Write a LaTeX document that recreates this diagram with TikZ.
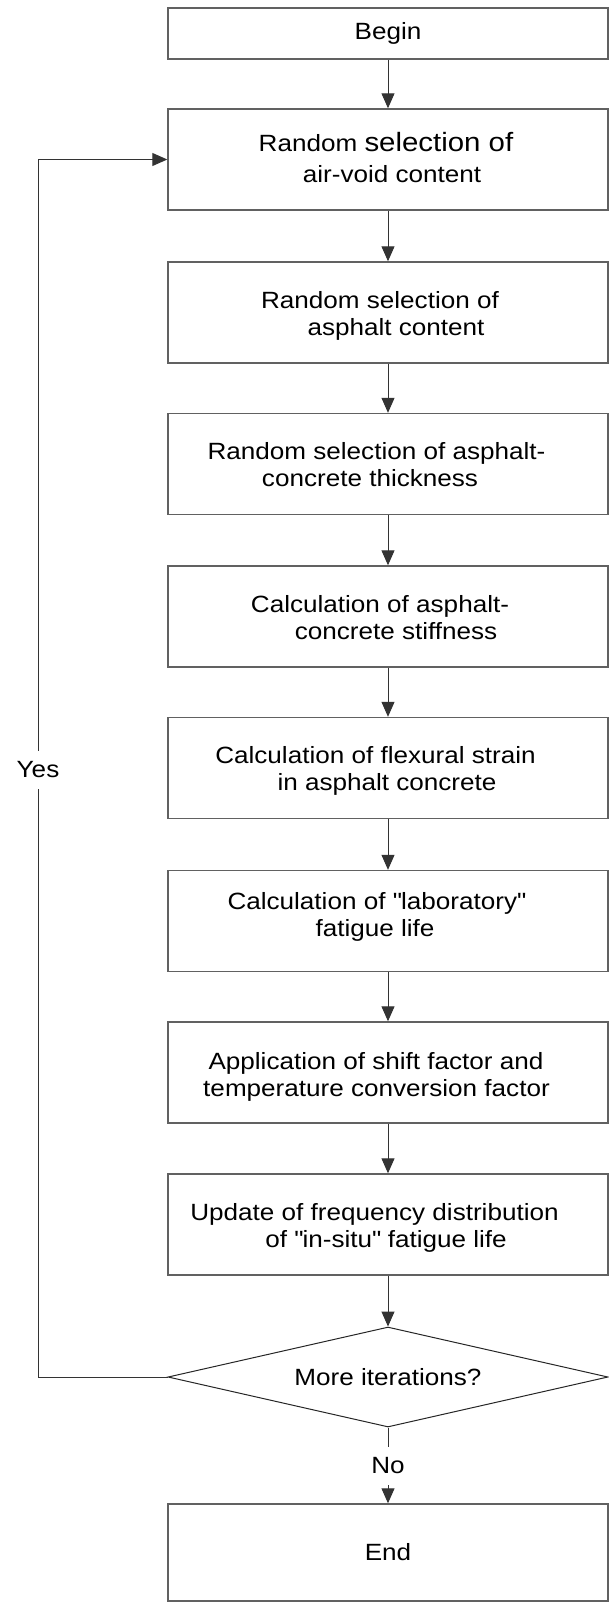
\documentclass[tikz,border=0pt]{standalone}
\usepackage{fontspec}
\setmainfont[FakeStretch=1.11]{Liberation Sans}
\usetikzlibrary{arrows.meta,shapes.geometric}
% #1 vertical shift (pt, positive = up), #2 lines
\newcommand\tx[2]{\raisebox{#1pt}[\height][\depth]{\begin{tabular}{@{}c@{}}#2\end{tabular}}}
% horizontal shift of one line (pt, positive = right)
\newcommand\lsh[2]{\hspace*{#1pt}#2\hspace*{-#1pt}}
\newcommand\qq{\textquotedbl}
\begin{document}
\begin{tikzpicture}[x=1pt,y=-1pt,
  box/.style={draw=black!62, line width=1.4pt, minimum width=440pt, minimum height=101pt,
    inner sep=0pt, align=center, font=\fontsize{23.5}{27}\selectfont},
  dec/.style={draw=black!85, line width=1pt, diamond, aspect=4.4, minimum width=440pt,
    minimum height=100pt, inner sep=0pt, font=\fontsize{23.5}{27}\selectfont},
  flow/.style={draw=black!80, line width=1pt, -{Triangle[length=15pt,width=13pt]}},
  lbl/.style={fill=white, inner xsep=2pt, inner ysep=11pt, font=\fontsize{23.5}{27}\selectfont}]
\useasboundingbox (0,0) rectangle (609,1602);
\node[box, minimum height=51pt] (begin) at (388,33.5) {Begin};
\node[box] (b2) at (388,159.5) {\tx{-2}{\lsh{-2}{Random {\fontsize{26.5}{27}\selectfont selection of}}\\[4pt]\lsh{4}{air-void content}}};
\node[box] (b3) at (388,312.5) {\tx{-4}{\lsh{-8}{Random selection of}\\\lsh{8}{asphalt content}}};
\node[box] (b4) at (388,464) {\tx{-4}{\lsh{-11.5}{Random selection of asphalt-}\\\lsh{-18}{concrete thickness}}};
\node[box] (b5) at (388,616.5) {\tx{-4}{\lsh{-8}{Calculation of asphalt-}\\\lsh{8}{concrete stiffness}}};
\node[box] (b6) at (388,768) {\tx{-4}{\lsh{-12.5}{Calculation of flexural strain}\\\lsh{-1}{in asphalt concrete}}};
\node[box] (b7) at (388,921) {\tx{3}{\lsh{-11.5}{Calculation of \qq laboratory\qq}\\\lsh{-13}{fatigue life}}};
\node[box] (b8) at (388,1072.5) {\tx{-5.5}{\lsh{-12}{Application of shift factor and}\\\lsh{-11.5}{temperature conversion factor}}};
\node[box] (b9) at (388,1224.5) {\tx{-4}{\lsh{-13.5}{Update of frequency distribution}\\\lsh{-2}{of \qq in-situ\qq\ fatigue life}}};
\node[dec] (more) at (388,1377) {More iterations?};
\node[box, minimum height=97pt] (end) at (388,1552.5) {End};
\coordinate (lc1) at (38,1377);
\coordinate (lc2) at (38,159.5);
\draw[flow] (begin) -- (b2);
\draw[flow] (b2) -- (b3);
\draw[flow] (b3) -- (b4);
\draw[flow] (b4) -- (b5);
\draw[flow] (b5) -- (b6);
\draw[flow] (b6) -- (b7);
\draw[flow] (b7) -- (b8);
\draw[flow] (b8) -- (b9);
\draw[flow] (b9) -- (more);
\draw[flow] (more.west) -- (lc1) -- (lc2) -- (b2.west);
\draw[flow] (more.south) -- (end.north);
\node[lbl] (yes) at (38,770) {Yes};
\node[lbl] (no) at (388,1466) {No};
\end{tikzpicture}
\end{document}
